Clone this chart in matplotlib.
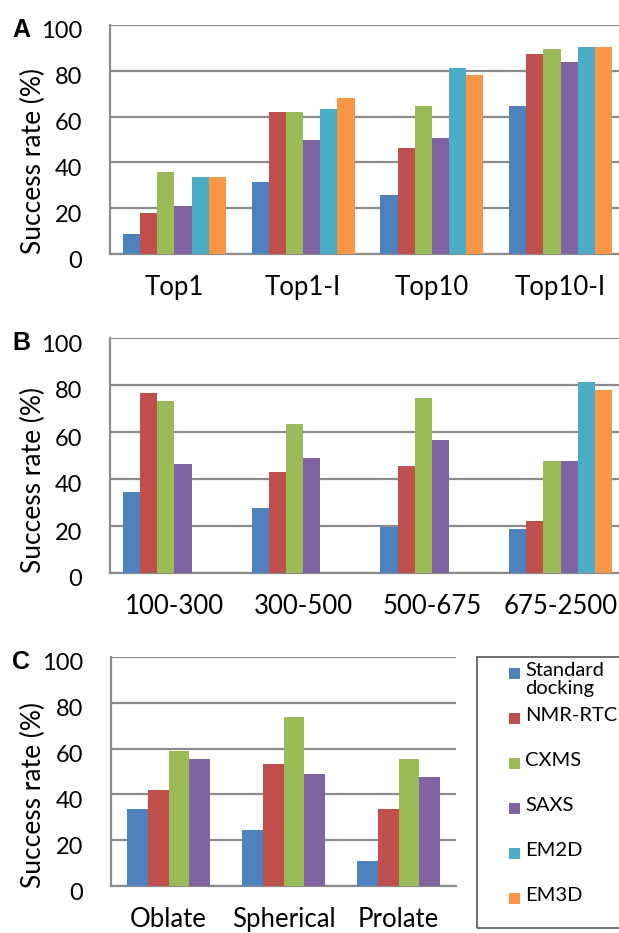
import numpy as np
import matplotlib
matplotlib.use('Agg')
import matplotlib.pyplot as plt
from matplotlib.patches import Rectangle
from matplotlib.transforms import ScaledTranslation

plt.rcParams['font.family'] = ['Lato', 'DejaVu Sans']

series = ['Standard\ndocking', 'NMR-RTC', 'CXMS', 'SAXS', 'EM2D', 'EM3D']
colors = ['#4F81BD', '#C0504D', '#9BBB59', '#8064A2', '#4BACC6', '#F79646']

# panel A
cats_a = ['Top1', 'Top1-I', 'Top10', 'Top10-I']
std_a = [8.6, 31.3, 25.7, 64.5]
nmr_a = [17.7, 62.0, 46.2, 87.4]
cxms_a = [36.0, 62.0, 64.5, 89.6]
saxs_a = [21.0, 49.6, 50.7, 83.9]
em2d_a = [33.5, 63.3, 81.4, 90.6]
em3d_a = [33.5, 68.0, 78.1, 90.6]

# panel B
cats_b = ['100-300', '300-500', '500-675', '675-2500']
std_b = [34.3, 27.5, 19.7, 18.6]
nmr_b = [76.6, 43.1, 45.4, 22.0]
cxms_b = [73.3, 63.3, 74.3, 47.5]
saxs_b = [46.5, 48.8, 56.6, 47.5]
em2d_b = [0, 0, 0, 81.1]
em3d_b = [0, 0, 0, 77.7]

# panel C
cats_c = ['Oblate', 'Spherical', 'Prolate']
std_c = [33.7, 24.5, 10.8]
nmr_c = [41.8, 53.3, 33.7]
cxms_c = [59.1, 74.0, 55.6]
saxs_c = [55.6, 48.8, 47.6]

W, H = 619, 933
fig = plt.figure(figsize=(W / 100, H / 100), dpi=100)

grid_col = '#8c8c8c'


def panel(left, top, right, bottom, cats, vals, group_frac, letter, label_y):
    ax = fig.add_axes([left / W, 1 - bottom / H, (right - left) / W, (bottom - top) / H])
    x = np.arange(len(cats))
    nslots = len(vals)
    bw = group_frac / nslots
    for i, v in enumerate(vals):
        ax.bar(x - group_frac / 2 + bw * (i + 0.5), v, bw, color=colors[i], zorder=3)
    ax.set_ylim(0, 100)
    ax.set_yticks(range(0, 101, 20))
    ax.set_xlim(-0.5, len(cats) - 0.5)
    ax.set_xticks(x)
    ax.set_xticklabels(cats, fontsize=18.5)
    ax.tick_params(axis='y', length=0, pad=20, labelsize=17)
    ax.tick_params(axis='x', length=0, pad=15)
    for lbl in ax.get_yticklabels():
        lbl.set_transform(lbl.get_transform() + ScaledTranslation(0, -0.05, fig.dpi_scale_trans))
    ax.yaxis.grid(True, color=grid_col, linewidth=1.6, zorder=0)
    for s in ['top', 'right']:
        ax.spines[s].set_visible(False)
    for s in ['left', 'bottom']:
        ax.spines[s].set_color(grid_col)
        ax.spines[s].set_linewidth(1.6)
    ax.set_axisbelow(True)
    fig.text(12 / W, 1 - (top + 5) / H, letter, fontsize=18, fontweight='bold',
             family='Liberation Sans', ha='left', va='center')
    fig.text(33 / W, 1 - label_y / H, 'Success rate (%)', rotation=90,
             fontsize=19, ha='center', va='center')
    return ax


panel(110, 25, 625, 254, cats_a,
      [std_a, nmr_a, cxms_a, saxs_a, em2d_a, em3d_a], 0.80, 'A', 161)
panel(110, 338, 625, 573, cats_b,
      [std_b, nmr_b, cxms_b, saxs_b, em2d_b, em3d_b], 0.80, 'B', 480)
panel(111, 657, 456, 886, cats_c,
      [std_c, nmr_c, cxms_c, saxs_c], 0.72, 'C', 795)

# legend box
fig.patches.append(Rectangle((477 / W, 1 - 928 / H), 1, (928 - 657) / H,
                             transform=fig.transFigure, facecolor='none',
                             edgecolor='#555555', linewidth=1.2))
for i, name in enumerate(series):
    yc = 673 + 45 * i
    fig.patches.append(Rectangle((509 / W, 1 - (yc + 5.5) / H), 11 / W, 11 / H,
                                 transform=fig.transFigure, facecolor=colors[i],
                                 edgecolor='none'))
    fig.text(525 / W, 1 - (yc - 11) / H, name, fontsize=14.5, ha='left', va='top',
             linespacing=1.05)

fig.savefig('out.png', dpi=100)
